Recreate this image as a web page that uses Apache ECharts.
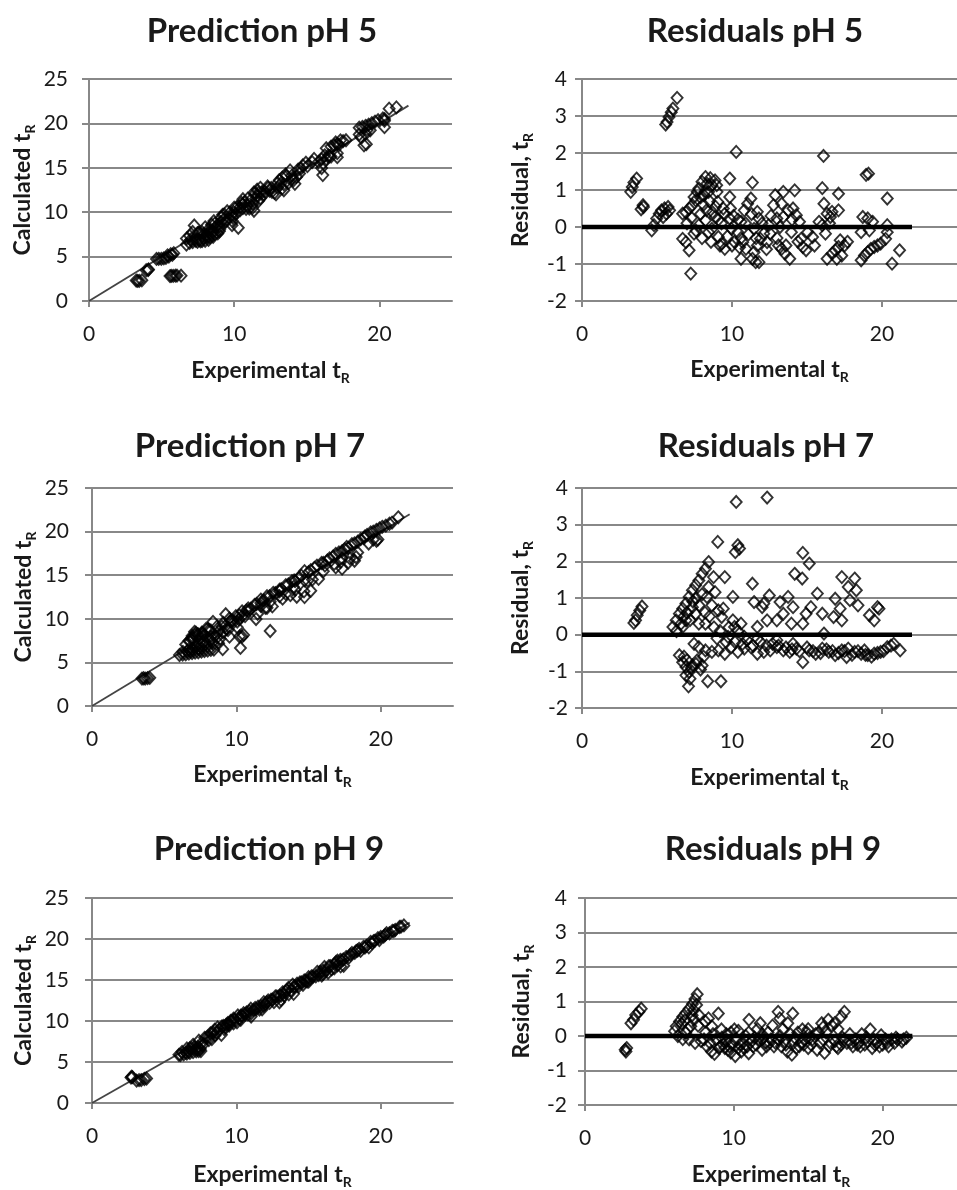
<!DOCTYPE html>
<html><head><meta charset="utf-8">
<script src="https://cdn.jsdelivr.net/npm/echarts@6/dist/echarts.min.js"></script>
<style>html,body{margin:0;padding:0;background:#fff}#c{width:957px;height:1190px}</style>
</head><body><div id="c"></div>
<script>
// ---------- text ----------
const titles = ['Prediction pH 5', 'Residuals pH 5', 'Prediction pH 7', 'Residuals pH 7', 'Prediction pH 9', 'Residuals pH 9'];
const xName = ['Experimental t', 'R'];
const predYName = ['Calculated t', 'R'];
const resYName = ['Residual, t', 'R'];

// ---------- tick values ----------
const xTicks = [0, 10, 20];
const xRange = [0, 25];
const predRange = [0, 25];
const resRange = [-2, 4];

// ---------- reference lines (data space) ----------
const identityLine = [[0, 0], [22, 22]];
const zeroLine = [[0, 0], [22, 0]];

// ---------- pH 5 : [experimental, residual] and [experimental, calculated] ----------
const residPH5 = [[6.34,3.49],[6.06,3.2],[5.95,3.1],[5.8,2.97],[5.67,2.84],[5.58,2.77],[10.28,2.03],[16.1,1.92],[19.1,1.44],[18.94,1.41],
[3.64,1.31],[3.46,1.2],[3.25,0.95],[3.35,1.08],[4.07,0.59],[3.94,0.48],[4.1,0.54],[4.65,-0.09],[4.8,0.05],[4.98,0.23],
[5.15,0.36],[5.3,0.45],[5.5,0.5],[5.74,0.54],[5.84,0.45],[5.63,0.36],[5.41,0.27],[8.23,1.35],[8.55,1.32],[8.87,1.26],
[8.0,1.22],[8.33,1.17],[8.66,1.13],[8.98,1.13],[7.79,1.04],[7.68,0.95],[7.47,0.81],[8.12,0.86],[8.44,0.95],[7.58,0.72],
[7.36,0.59],[7.14,0.5],[6.93,0.39],[6.71,0.36],[9.85,1.31],[9.05,0.68],[9.42,0.5],[9.85,0.81],[6.71,-0.32],[6.93,-0.41],
[7.14,-0.63],[7.25,-1.26],[7.47,-0.18],[7.79,0.05],[8.23,0.18],[8.66,-0.05],[9.09,-0.27],[9.31,-0.45],[9.52,-0.59],[9.96,-0.05],
[10.17,-0.41],[9.85,0.23],[8.87,0.27],[8.44,-0.14],[11.36,1.2],[11.26,0.77],[11.04,0.63],[10.82,0.45],[10.6,0.14],[10.39,-0.14],
[10.71,-0.41],[10.93,-0.59],[10.6,-0.86],[11.36,-0.86],[11.58,-0.95],[11.8,-0.95],[11.47,-0.68],[11.69,-0.5],[11.9,-0.32],[11.8,0.23],
[11.69,0.41],[11.47,-0.05],[12.34,-0.41],[12.12,-0.18],[12.55,-0.18],[12.45,0.05],[12.88,0.86],[12.77,0.59],[12.99,0.23],[13.1,-0.5],
[13.31,-0.59],[13.53,-0.72],[13.85,-0.86],[13.42,0.95],[13.31,0.63],[13.42,0.27],[13.2,0],[13.74,0.45],[13.96,-0.14],[14.18,0.99],
[14.07,0.5],[14.29,0.32],[14.5,0.14],[14.61,-0.32],[14.72,-0.54],[14.94,-0.63],[15.04,-0.14],[15.37,-0.27],[16.02,1.05],[16.13,0.63],
[16.34,0.36],[16.23,-0.18],[16.02,0.05],[15.8,0.14],[16.34,-0.86],[16.67,-0.72],[16.88,-0.63],[17.1,-0.54],[17.21,-0.36],[17.1,0.9],
[17.1,0.45],[17.32,-0.77],[16.99,-0.86],[16.67,0.41],[16.56,0.27],[18.61,-0.14],[18.61,-0.9],[18.72,0.27],[19.05,0.23],[19.16,-0.09],
[19.37,0.14],[19.26,-0.59],[19.48,-0.54],[19.7,-0.5],[19.91,-0.45],[20.24,-0.32],[20.35,-0.14],[20.35,0.05],[20.35,0.77],[20.67,-0.99],
[21.17,-0.63],[18.83,-0.77],[19.05,-0.68],
[7.0,0.1],[7.3,0.25],[7.6,-0.1],[7.9,0.35],[8.1,0.6],[8.3,0.45],[8.5,0.7],[8.7,0.4],[8.9,0.55],[9.1,0.2],
[9.3,0.1],[9.5,0.35],[9.7,-0.25],[9.9,0.5],[10.1,0.3],[10.4,0.2],[10.6,-0.3],[10.9,0.1],[11.1,-0.2],[11.3,0.35],
[11.6,-0.3],[12.0,0.1],[12.3,-0.6],[12.6,0.3],[13.0,-0.3],[13.6,-0.5],[14.0,0.2],[14.4,-0.4],[15.5,-0.5],[16.5,0.1],
[17.5,-0.5],[17.7,-0.4],[8.0,-0.3],[8.6,-0.4],[9.2,-0.5],[9.0,0.95],[8.2,0.95],[7.9,0.8],[10.0,-0.5],[10.5,-0.55]];

const predPH5 = [[6.34,2.85],[6.06,2.86],[5.95,2.85],[5.8,2.83],[5.67,2.83],[5.58,2.81],[10.28,8.25],[16.1,14.18],[19.1,17.66],[18.94,17.53],
[3.64,2.33],[3.46,2.26],[3.25,2.3],[3.35,2.27],[4.07,3.48],[3.94,3.46],[4.1,3.56],[4.65,4.74],[4.8,4.75],[4.98,4.75],
[5.15,4.79],[5.3,4.85],[5.5,5.0],[5.74,5.2],[5.84,5.39],[5.63,5.27],[5.41,5.14],[8.23,6.88],[8.55,7.23],[8.87,7.61],
[8.0,6.78],[8.33,7.16],[8.66,7.53],[8.98,7.85],[7.79,6.75],[7.68,6.73],[7.47,6.66],[8.12,7.26],[8.44,7.49],[7.58,6.86],
[7.36,6.77],[7.14,6.64],[6.93,6.54],[6.71,6.35],[9.85,8.54],[9.05,8.37],[9.42,8.92],[9.85,9.04],[6.71,7.03],[6.93,7.34],
[7.14,7.77],[7.25,8.51],[7.47,7.65],[7.79,7.74],[8.23,8.05],[8.66,8.71],[9.09,9.36],[9.31,9.76],[9.52,10.11],[9.96,10.01],
[10.17,10.58],[9.85,9.62],[8.87,8.6],[8.44,8.58],[11.36,10.16],[11.26,10.49],[11.04,10.41],[10.82,10.37],[10.6,10.46],[10.39,10.53],
[10.71,11.12],[10.93,11.52],[10.6,11.46],[11.36,12.22],[11.58,12.53],[11.8,12.75],[11.47,12.15],[11.69,12.19],[11.9,12.22],[11.8,11.57],
[11.69,11.28],[11.47,11.52],[12.34,12.75],[12.12,12.3],[12.55,12.73],[12.45,12.4],[12.88,12.02],[12.77,12.18],[12.99,12.76],[13.1,13.6],
[13.31,13.9],[13.53,14.25],[13.85,14.71],[13.42,12.47],[13.31,12.68],[13.42,13.15],[13.2,13.2],[13.74,13.29],[13.96,14.1],[14.18,13.19],
[14.07,13.57],[14.29,13.97],[14.5,14.36],[14.61,14.93],[14.72,15.26],[14.94,15.57],[15.04,15.18],[15.37,15.64],[16.02,14.97],[16.13,15.5],
[16.34,15.98],[16.23,16.41],[16.02,15.97],[15.8,15.66],[16.34,17.2],[16.67,17.39],[16.88,17.51],[17.1,17.64],[17.21,17.57],[17.1,16.2],
[17.1,16.65],[17.32,18.09],[16.99,17.85],[16.67,16.26],[16.56,16.29],[18.61,18.75],[18.61,19.51],[18.72,18.45],[19.05,18.82],[19.16,19.25],
[19.37,19.23],[19.26,19.85],[19.48,20.02],[19.7,20.2],[19.91,20.36],[20.24,20.56],[20.35,20.49],[20.35,20.3],[20.35,19.58],[20.67,21.66],
[21.17,21.8],[18.83,19.6],[19.05,19.73],
[7.0,6.9],[7.3,7.05],[7.6,7.7],[7.9,7.55],[8.1,7.5],[8.3,7.85],[8.5,7.8],[8.7,8.3],[8.9,8.35],[9.1,8.9],
[9.3,9.2],[9.5,9.15],[9.7,9.95],[9.9,9.4],[10.1,9.8],[10.4,10.2],[10.6,10.9],[10.9,10.8],[11.1,11.3],[11.3,10.95],
[11.6,11.9],[12.0,11.9],[12.3,12.9],[12.6,12.3],[13.0,13.3],[13.6,14.1],[14.0,13.8],[14.4,14.8],[15.5,16.0],[16.5,16.4],
[17.5,18.0],[17.7,18.1],[8.0,8.3],[8.6,9.0],[9.2,9.7],[9.0,8.05],[8.2,7.25],[7.9,7.1],[10.0,10.5],[10.5,11.05]];

// ---------- pH 7 ----------
const residPH7 = [[10.28,3.62],[12.34,3.74],[9.05,2.53],[10.39,2.44],[10.22,2.25],[10.5,2.35],[14.72,2.23],[15.15,1.94],[14.18,1.66],[14.68,1.53],
[17.32,1.57],[18.18,1.53],[17.75,1.3],[18.29,1.21],[18.4,0.8],[17.86,0.94],[16.88,0.98],[17.21,0.71],[17.32,0.39],[16.77,0.48],
[19.7,0.75],[19.16,0.53],[19.48,0.39],[19.8,0.71],[11.36,1.39],[10.06,1.03],[9.52,1.57],[12.49,1.07],[13.74,1.03],[13.2,0.89],
[12.12,0.85],[11.47,0.89],[12.01,0.75],[14.07,0.75],[13.42,0.57],[13.96,0.3],[12.99,0.39],[12.34,0.39],[11.69,0.21],[15.69,1.12],
[15.26,0.75],[14.94,0.57],[14.72,0.3],[16.02,0.57],[16.13,0.03],[8.44,1.98],[8.23,1.8],[8.01,1.66],[7.79,1.48],[7.58,1.35],
[7.36,1.21],[7.14,1.03],[6.93,0.85],[6.71,0.71],[6.49,0.57],[6.28,0.39],[6.06,0.21],[8.77,1.57],[8.87,1.16],[8.44,1.3],
[8.33,1.03],[8.66,0.8],[9.09,0.66],[9.42,0.71],[9.31,0.48],[8.23,0.3],[7.58,0.57],[7.36,0.75],[7.79,0.3],[6.93,0.39],
[6.71,0.21],[10.06,0.39],[10.17,0.21],[10.6,0.3],[6.49,-0.56],[6.71,-0.75],[6.93,-0.88],[7.14,-1.02],[6.93,-1.11],[7.36,-0.84],
[7.68,-0.7],[8.01,-0.84],[8.38,-1.27],[9.26,-1.27],[7.1,-1.41],[7.47,-0.25],[7.79,-0.34],[8.23,-0.43],[8.66,-0.47],[9.09,-0.43],
[9.52,-0.52],[9.96,-0.34],[10.39,-0.47],[10.82,-0.38],[11.26,-0.34],[11.69,-0.52],[12.12,-0.47],[12.55,-0.43],[12.99,-0.34],[13.42,-0.43],
[13.85,-0.47],[14.29,-0.38],[14.72,-0.75],[15.15,-0.43],[15.58,-0.52],[16.02,-0.38],[16.45,-0.47],[16.88,-0.56],[17.32,-0.43],[17.64,-0.61],
[18.18,-0.47],[18.61,-0.52],[19.05,-0.56],[19.48,-0.52],[19.91,-0.47],[20.35,-0.34],[20.78,-0.25],[21.21,-0.43],[18.83,-0.43],[17.75,-0.38],
[9.74,-0.06],[10.82,-0.06],[11.69,-0.11],[12.99,-0.15],[14.07,-0.25],[3.57,0.39],[3.68,0.53],[3.85,0.66],[4.0,0.77],[3.46,0.32],
[6.3,0.1],[6.6,0.3],[6.8,0.5],[7.0,0.6],[7.2,0.4],[7.4,0.9],[7.6,1.0],[7.8,0.8],[8.0,1.1],[8.2,0.6],
[8.5,0.5],[8.8,0.2],[9.0,-0.1],[9.2,0.1],[9.6,-0.2],[9.8,0.2],[10.2,-0.2],[10.4,0.1],[10.7,-0.25],[11.0,-0.15],
[11.4,-0.3],[11.9,-0.2],[12.3,-0.3],[12.7,-0.25],[13.1,-0.3],[13.6,-0.35],[14.0,-0.4],[14.5,-0.45],[15.0,-0.35],[15.4,-0.45],
[15.9,-0.5],[16.3,-0.4],[16.7,-0.45],[17.1,-0.5],[17.5,-0.45],[18.0,-0.55],[18.4,-0.45],[18.9,-0.55],[19.3,-0.6],[19.7,-0.5],
[20.1,-0.45],[20.6,-0.3],[7.0,-0.7],[7.3,-0.9],[7.6,-0.8],[7.9,-0.95],[8.1,-0.6],[6.8,-0.6],[7.2,-1.2]];

const predPH7 = [[10.28,6.66],[12.34,8.6],[9.05,6.52],[10.39,7.95],[10.22,7.97],[10.5,8.15],[14.72,12.49],[15.15,13.21],[14.18,12.52],[14.68,13.15],
[17.32,15.75],[18.18,16.65],[17.75,16.45],[18.29,17.08],[18.4,17.6],[17.86,16.92],[16.88,15.9],[17.21,16.5],[17.32,16.93],[16.77,16.29],
[19.7,18.95],[19.16,18.63],[19.48,19.09],[19.8,19.09],[11.36,9.97],[10.06,9.03],[9.52,7.95],[12.49,11.42],[13.74,12.71],[13.2,12.31],
[12.12,11.27],[11.47,10.58],[12.01,11.26],[14.07,13.32],[13.42,12.85],[13.96,13.66],[12.99,12.6],[12.34,11.95],[11.69,11.48],[15.69,14.57],
[15.26,14.51],[14.94,14.37],[14.72,14.42],[16.02,15.45],[16.13,16.1],[8.44,6.46],[8.23,6.43],[8.01,6.35],[7.79,6.31],[7.58,6.23],
[7.36,6.15],[7.14,6.11],[6.93,6.08],[6.71,6.0],[6.49,5.92],[6.28,5.89],[6.06,5.85],[8.77,7.2],[8.87,7.71],[8.44,7.14],
[8.33,7.3],[8.66,7.86],[9.09,8.43],[9.42,8.71],[9.31,8.83],[8.23,7.93],[7.58,7.01],[7.36,6.61],[7.79,7.49],[6.93,6.54],
[6.71,6.5],[10.06,9.67],[10.17,9.96],[10.6,10.3],[6.49,7.05],[6.71,7.46],[6.93,7.81],[7.14,8.16],[6.93,8.04],[7.36,8.2],
[7.68,8.38],[8.01,8.85],[8.38,9.65],[9.26,10.53],[7.1,8.51],[7.47,7.72],[7.79,8.13],[8.23,8.66],[8.66,9.13],[9.09,9.52],
[9.52,10.04],[9.96,10.3],[10.39,10.86],[10.82,11.2],[11.26,11.6],[11.69,12.21],[12.12,12.59],[12.55,12.98],[12.99,13.33],[13.42,13.85],
[13.85,14.32],[14.29,14.67],[14.72,15.47],[15.15,15.58],[15.58,16.1],[16.02,16.4],[16.45,16.92],[16.88,17.44],[17.32,17.75],[17.64,18.25],
[18.18,18.65],[18.61,19.13],[19.05,19.61],[19.48,20.0],[19.91,20.38],[20.35,20.69],[20.78,21.03],[21.21,21.64],[18.83,19.26],[17.75,18.13],
[9.74,9.8],[10.82,10.88],[11.69,11.8],[12.99,13.14],[14.07,14.32],[3.57,3.18],[3.68,3.15],[3.85,3.19],[4.0,3.23],[3.46,3.14],
[6.3,6.2],[6.6,6.3],[6.8,6.3],[7.0,6.4],[7.2,6.8],[7.4,6.5],[7.6,6.6],[7.8,7.0],[8.0,6.9],[8.2,7.6],
[8.5,8.0],[8.8,8.6],[9.0,9.1],[9.2,9.1],[9.6,9.8],[9.8,9.6],[10.2,10.4],[10.4,10.3],[10.7,10.95],[11.0,11.15],
[11.4,11.7],[11.9,12.1],[12.3,12.6],[12.7,12.95],[13.1,13.4],[13.6,13.95],[14.0,14.4],[14.5,14.95],[15.0,15.35],[15.4,15.85],
[15.9,16.4],[16.3,16.7],[16.7,17.15],[17.1,17.6],[17.5,17.95],[18.0,18.55],[18.4,18.85],[18.9,19.45],[19.3,19.9],[19.7,20.2],
[20.1,20.55],[20.6,20.9],[7.0,7.7],[7.3,8.2],[7.6,8.4],[7.9,8.85],[8.1,8.7],[6.8,7.4],[7.2,8.4]];

// ---------- pH 9 ----------
const residPH9 = [[3.09,0.37],[3.41,0.61],[3.63,0.7],[3.78,0.79],[3.26,0.47],[2.7,-0.4],[2.8,-0.35],[2.75,-0.45],[7.54,1.21],[7.39,1.07],
[7.22,0.93],[7.0,0.79],[6.78,0.67],[6.57,0.56],[6.35,0.42],[6.13,0.28],[6.02,0.14],[6.24,0],[6.57,-0.09],[6.78,0.09],
[7.11,0.28],[7.33,0.47],[7.65,0.61],[8.09,0.42],[8.3,0.51],[8.96,0.65],[8.52,0.28],[9.17,0.19],[10.04,0.19],[11.02,0.47],
[11.78,0.37],[12.98,0.7],[13.96,0.65],[13.63,0.37],[13.09,0.51],[14.61,0.19],[15.91,0.37],[16.35,0.47],[16.78,0.37],[17.43,0.7],
[17.22,0.56],[19.17,0.19],[8.2,-0.3],[8.5,-0.45],[8.7,-0.52],[9.0,-0.35],[9.3,-0.25],[9.6,-0.4],[9.8,-0.48],[10.1,-0.58],
[10.3,-0.35],[10.6,-0.2],[10.9,-0.3],[11.2,-0.15],[11.5,-0.25],[11.9,-0.4],[12.2,-0.3],[12.5,-0.1],[12.8,-0.2],[13.2,-0.3],
[13.6,-0.45],[13.9,-0.54],[14.2,-0.35],[14.5,-0.2],[14.8,-0.1],[15.2,-0.25],[15.6,-0.4],[16.1,-0.49],[16.4,-0.3],[16.8,-0.15],
[17.2,-0.25],[17.6,-0.2],[18.0,-0.3],[18.4,-0.2],[18.8,-0.25],[19.3,-0.35],[19.6,-0.2],[20.0,-0.25],[20.4,-0.3],[20.8,-0.2],
[21.3,-0.16],[21.0,-0.1],[7.0,-0.1],[7.4,-0.2],[7.8,-0.15],[8.0,-0.1],[9.5,-0.15],[10.5,-0.45],[11.0,-0.5],[12.0,-0.05],
[13.0,-0.1],[14.0,-0.2],[15.0,-0.35],[16.0,-0.1],[17.0,-0.35],[18.2,-0.1],[19.0,-0.15],[20.2,-0.1],[21.6,-0.05],[9.5,0.05],
[10.3,0.15],[11.0,0.1],[11.6,0.2],[12.3,0.1],[13.3,0.2],[14.3,0.1],[15.0,0.2],[15.5,0.05],[16.0,0.25],[16.6,0.3],
[17.0,0.2],[17.8,0.05],[18.6,0.05],[19.9,0.02],[12.6,0.3],[14.9,0.1],[9.8,0.1],[8.4,-0.2],[8.8,-0.1],[9.1,-0.3],
[9.4,-0.35],[9.9,-0.25],[10.2,-0.1],[10.7,-0.35],[11.3,-0.3],[11.7,-0.1],[12.1,-0.2],[12.7,-0.3],[13.4,-0.15],[13.8,0.05],
[14.4,-0.3],[15.3,-0.1],[15.8,-0.2],[16.2,0.1],[16.9,-0.3],[17.4,-0.1],[18.5,-0.3],[19.5,-0.25],[20.6,-0.1],[6.9,0.2],
[7.2,0.6],[7.5,0.9],[6.5,0.35],
[8.1,0.1],[8.6,0.05],[9.2,-0.05],[9.7,-0.3],[10.4,-0.25],[10.8,0.0],[11.4,-0.05],[11.9,0.05],[12.4,-0.2],[13.1,0.0],
[13.5,-0.25],[14.1,-0.05],[14.7,-0.25],[15.1,-0.05],[15.7,0.1],[16.5,-0.2],[17.3,-0.05],[17.9,-0.2],[18.3,-0.25],[18.9,-0.05],
[19.4,-0.1],[19.8,-0.3],[20.3,-0.2],[20.9,-0.05],[21.4,-0.1],[7.6,0.3],[7.3,0.75],[6.7,0.45]];

const predPH9 = [[3.09,2.72],[3.41,2.8],[3.63,2.93],[3.78,2.99],[3.26,2.79],[2.7,3.1],[2.8,3.15],[2.75,3.2],[7.54,6.33],[7.39,6.32],
[7.22,6.29],[7.0,6.21],[6.78,6.11],[6.57,6.01],[6.35,5.93],[6.13,5.85],[6.02,5.88],[6.24,6.24],[6.57,6.66],[6.78,6.69],
[7.11,6.83],[7.33,6.86],[7.65,7.04],[8.09,7.67],[8.3,7.79],[8.96,8.31],[8.52,8.24],[9.17,8.98],[10.04,9.85],[11.02,10.55],
[11.78,11.41],[12.98,12.28],[13.96,13.31],[13.63,13.26],[13.09,12.58],[14.61,14.42],[15.91,15.54],[16.35,15.88],[16.78,16.41],[17.43,16.73],
[17.22,16.66],[19.17,18.98],[8.2,8.5],[8.5,8.95],[8.7,9.22],[9.0,9.35],[9.3,9.55],[9.6,10.0],[9.8,10.28],[10.1,10.68],
[10.3,10.65],[10.6,10.8],[10.9,11.2],[11.2,11.35],[11.5,11.75],[11.9,12.3],[12.2,12.5],[12.5,12.6],[12.8,13.0],[13.2,13.5],
[13.6,14.05],[13.9,14.44],[14.2,14.55],[14.5,14.7],[14.8,14.9],[15.2,15.45],[15.6,16.0],[16.1,16.59],[16.4,16.7],[16.8,16.95],
[17.2,17.45],[17.6,17.8],[18.0,18.3],[18.4,18.6],[18.8,19.05],[19.3,19.65],[19.6,19.8],[20.0,20.25],[20.4,20.7],[20.8,21.0],
[21.3,21.46],[21.0,21.1],[7.0,7.1],[7.4,7.6],[7.8,7.95],[8.0,8.1],[9.5,9.65],[10.5,10.95],[11.0,11.5],[12.0,12.05],
[13.0,13.1],[14.0,14.2],[15.0,15.35],[16.0,16.1],[17.0,17.35],[18.2,18.3],[19.0,19.15],[20.2,20.3],[21.6,21.65],[9.5,9.45],
[10.3,10.15],[11.0,10.9],[11.6,11.4],[12.3,12.2],[13.3,13.1],[14.3,14.2],[15.0,14.8],[15.5,15.45],[16.0,15.75],[16.6,16.3],
[17.0,16.8],[17.8,17.75],[18.6,18.55],[19.9,19.88],[12.6,12.3],[14.9,14.8],[9.8,9.7],[8.4,8.6],[8.8,8.9],[9.1,9.4],
[9.4,9.75],[9.9,10.15],[10.2,10.3],[10.7,11.05],[11.3,11.6],[11.7,11.8],[12.1,12.3],[12.7,13.0],[13.4,13.55],[13.8,13.75],
[14.4,14.7],[15.3,15.4],[15.8,16.0],[16.2,16.1],[16.9,17.2],[17.4,17.5],[18.5,18.8],[19.5,19.75],[20.6,20.7],[6.9,6.7],
[7.2,6.6],[7.5,6.6],[6.5,6.15],
[8.1,8.0],[8.6,8.55],[9.2,9.25],[9.7,10.0],[10.4,10.65],[10.8,10.8],[11.4,11.45],[11.9,11.85],[12.4,12.6],[13.1,13.1],
[13.5,13.75],[14.1,14.15],[14.7,14.95],[15.1,15.15],[15.7,15.6],[16.5,16.7],[17.3,17.35],[17.9,18.1],[18.3,18.55],[18.9,18.95],
[19.4,19.5],[19.8,20.1],[20.3,20.5],[20.9,20.95],[21.4,21.5],[7.6,7.3],[7.3,6.55],[6.7,6.25]];

// ---------- layout ----------
const FONT = 'Lato, "Open Sans", sans-serif';
const INK = '#1a1a1a';
const GRIDC = '#888888';
const panels = [
  { kind: 'pred', data: predPH5,  grid: {left: 89,  top: 79,  width: 363, height: 222}, title: [257, 10],  yLabMargin: 21, yGap: 52, xGap: 56 },
  { kind: 'res',  data: residPH5, grid: {left: 582, top: 79,  width: 385, height: 222}, title: [750, 10],  yLabMargin: 15, yGap: 47, xGap: 55 },
  { kind: 'pred', data: predPH7,  grid: {left: 92,  top: 488, width: 361, height: 218}, title: [245, 425], yLabMargin: 23, yGap: 54, xGap: 55 },
  { kind: 'res',  data: residPH7, grid: {left: 582, top: 488, width: 385, height: 220}, title: [761, 425], yLabMargin: 14, yGap: 47, xGap: 56 },
  { kind: 'pred', data: predPH9,  grid: {left: 92,  top: 898, width: 361, height: 210}, title: [264, 828], yLabMargin: 23, yGap: 54, xGap: 58 },
  { kind: 'res',  data: residPH9, grid: {left: 585, top: 898, width: 383, height: 212}, title: [768, 828], yLabMargin: 18, yGap: 49, xGap: 56 }
];

function richName(parts) { return '{a|' + parts[0] + '}{s|' + parts[1] + '}'; }
const nameRich = {
  a: { fontSize: 23, fontWeight: 'bold', fontFamily: FONT, color: INK, lineHeight: 28 },
  s: { fontSize: 14, fontWeight: 'bold', fontFamily: FONT, color: INK, verticalAlign: 'bottom' }
};

const option = { animation: false, backgroundColor: '#fff', title: [], grid: [], xAxis: [], yAxis: [], series: [] };

panels.forEach((p, i) => {
  option.title.push({
    text: titles[i], left: p.title[0], top: p.title[1], textAlign: 'center',
    textStyle: { fontSize: 33, fontWeight: 'bold', fontFamily: FONT, color: INK }
  });
  option.grid.push(Object.assign({ containLabel: false }, p.grid));
  option.xAxis.push({
    gridIndex: i, type: 'value', min: xRange[0], max: xRange[1], interval: 10,
    name: richName(xName), nameLocation: 'middle', nameGap: p.xGap,
    nameTextStyle: { rich: nameRich },
    axisLine: { show: true, onZero: false, lineStyle: { color: GRIDC, width: 2 } },
    axisTick: { show: true, length: 6, customValues: xTicks, lineStyle: { color: GRIDC, width: 2 } },
    axisLabel: { customValues: xTicks, margin: 23, fontSize: 21, fontFamily: FONT, color: INK },
    splitLine: { show: false }
  });
  const isPred = p.kind === 'pred';
  const yr = isPred ? predRange : resRange;
  option.yAxis.push({
    gridIndex: i, type: 'value', min: yr[0], max: yr[1], interval: isPred ? 5 : 1,
    name: richName(isPred ? predYName : resYName), nameLocation: 'middle', nameGap: p.yGap,
    nameTextStyle: { rich: nameRich },
    axisLine: { show: true, onZero: false, lineStyle: { color: GRIDC, width: 2 } },
    axisTick: { show: true, length: 7, lineStyle: { color: GRIDC, width: 2 } },
    axisLabel: { margin: p.yLabMargin, fontSize: 21, fontFamily: FONT, color: INK },
    splitLine: { show: true, lineStyle: { color: GRIDC, width: 2 } }
  });
  const scatter = {
    type: 'scatter', xAxisIndex: i, yAxisIndex: i, data: p.data,
    symbol: 'diamond', symbolSize: [11, 12], z: 3, silent: true,
    itemStyle: { color: 'rgba(0,0,0,0)', borderColor: '#000', borderWidth: 1.9 }
  };
  if (isPred) {
    option.series.push({
      type: 'line', xAxisIndex: i, yAxisIndex: i, data: identityLine, symbol: 'none', z: 2, silent: true,
      lineStyle: { color: '#444', width: 1.8 }
    });
    option.series.push(scatter);
  } else {
    option.series.push(scatter);
    option.series.push({
      type: 'line', xAxisIndex: i, yAxisIndex: i, data: zeroLine, symbol: 'none', z: 4, silent: true,
      lineStyle: { color: '#000', width: 4.5 }
    });
  }
});

const chart = echarts.init(document.getElementById('c'), null, { renderer: 'canvas' });
chart.setOption(option);
</script>
</body></html>
